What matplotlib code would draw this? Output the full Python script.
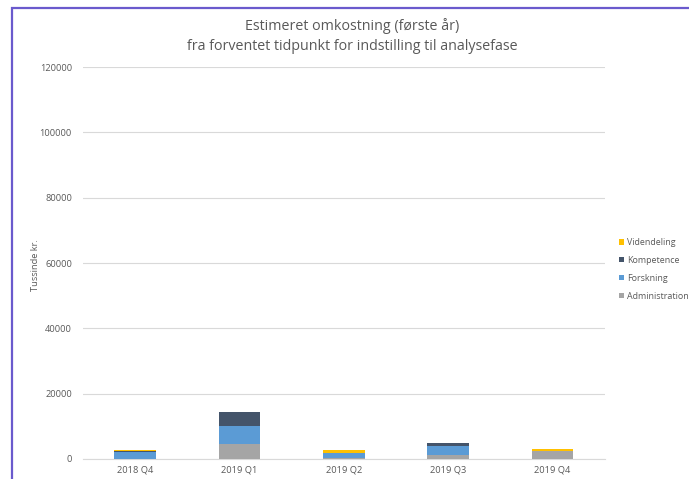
import matplotlib
matplotlib.use("Agg")
import matplotlib.pyplot as plt
import numpy as np
from matplotlib.patches import Rectangle

plt.rcParams['font.family'] = ['Open Sans', 'DejaVu Sans']

quarters = ['2018 Q4', '2019 Q1', '2019 Q2', '2019 Q3', '2019 Q4']
administration = [100, 4500, 300, 1200, 2450]
forskning = [2000, 5700, 1500, 2750, 0]
kompetence = [250, 4100, 100, 1000, 0]
videndeling = [500, 0, 700, 0, 600]

series = [('Administration', administration, '#A5A5A5'),
          ('Forskning', forskning, '#5B9BD5'),
          ('Kompetence', kompetence, '#44546A'),
          ('Videndeling', videndeling, '#FFC000')]

txt = '#595959'
fig = plt.figure(figsize=(6.89, 4.79), dpi=100)
ax = fig.add_axes([0.1205, 0.0418, 0.757, 0.818])

x = np.arange(len(quarters))
bottom = np.zeros(len(quarters))
handles = []
for name, vals, col in series:
    b = ax.bar(x, vals, 0.4, bottom=bottom, color=col, label=name, zorder=3)
    bottom += np.array(vals)
    handles.append(b)

ax.set_xlim(-0.5, len(quarters) - 0.5)
ax.set_ylim(0, 120000)
ax.set_yticks(np.arange(0, 120001, 20000))
ax.set_xticks(x)
ax.set_xticklabels(quarters)
ax.yaxis.grid(True, color='#d9d9d9', lw=0.8, zorder=0)
for s in ['top', 'right', 'left']:
    ax.spines[s].set_visible(False)
ax.spines['bottom'].set_color('#d9d9d9')
ax.tick_params(length=0, labelsize=6.7, colors=txt)
ax.tick_params(axis='y', pad=8)
ax.tick_params(axis='x', pad=5)

fig.text(35 / 689, 0.447, 'Tussinde kr.', rotation=90, ha='center', va='center',
         fontsize=6.7, color=txt)

fig.text(0.511, 0.945, 'Estimeret omkostning (første år)', ha='center', va='center',
         fontsize=10.3, color=txt)
fig.text(0.511, 0.903, 'fra forventet tidpunkt for indstilling til analysefase',
         ha='center', va='center', fontsize=10.3, color=txt)

leg = fig.legend(handles[::-1], [s[0] for s in series][::-1], loc='center left',
                 bbox_to_anchor=(0.893, 0.438), frameon=False, fontsize=6.4,
                 handlelength=0.6, handleheight=0.6, handletextpad=0.35,
                 labelspacing=1.0, borderaxespad=0)
for t in leg.get_texts():
    t.set_color(txt)

# outer frame line along top and left
fig.add_artist(Rectangle((12 / 689, -0.1), 1.2, 1.1 - 8 / 479, transform=fig.transFigure,
                         fill=False, edgecolor='#6a5acd', lw=1.6, clip_on=False))

plt.savefig('out.png', dpi=100)
